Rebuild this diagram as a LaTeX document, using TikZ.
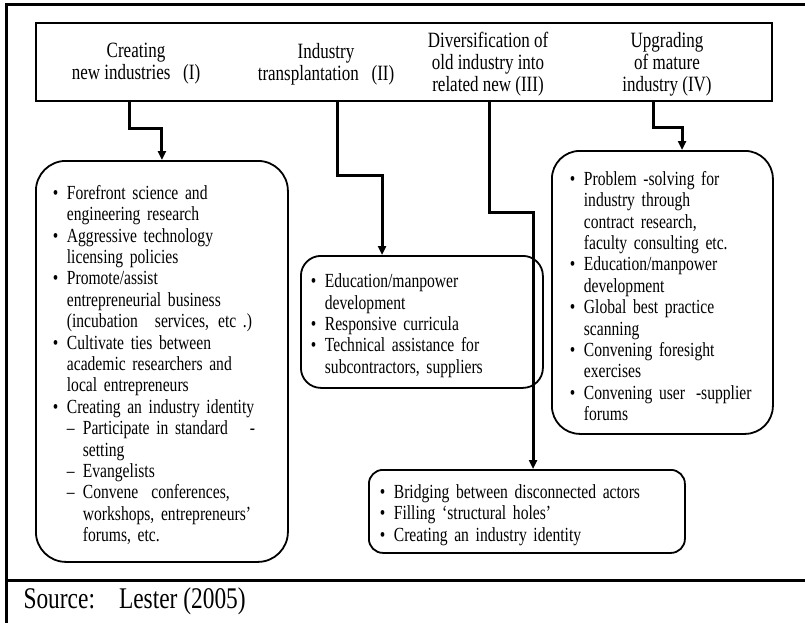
\documentclass[tikz,border=0pt]{standalone}
\usepackage{fontspec}
\setmainfont{Liberation Serif}[FakeStretch=0.78]
\usetikzlibrary{arrows.meta}
\usetikzlibrary{positioning}

\newcommand{\bitem}[1]{\par\noindent\hangindent=14pt\hangafter=1\makebox[14pt][l]{\textbullet}#1\par}
\newcommand{\ditem}[1]{\par\noindent\hangindent=30pt\hangafter=1\hspace*{14pt}\makebox[16pt][l]{--}#1\par}

\begin{document}
\begin{tikzpicture}[
    x=1pt, y=-1pt,
    headBox/.style={draw, line width=1.8pt, anchor=north west, inner sep=0pt},
    headText/.style={align=center, font=\fontsize{21.8}{22}\selectfont},
    itemBox/.style={
        draw, line width=1.8pt, anchor=north west,
        align=left, inner ysep=0pt,
        font=\fontsize{20}{21.4}\selectfont
    },
    link/.style={line width=3pt, -{Triangle[length=9pt, width=8pt]}},
    frame/.style={line width=3pt}
]
\useasboundingbox (0,0) rectangle (805,623);

% outer frame
\draw[frame] (805,5) -- (6.5,5) -- (6.5,623);
\draw[frame] (6.5,580) -- (805,580);

% strategies
\node[headBox, minimum width=736pt, minimum height=78pt] (head) at (35,22) {};
\node[headText] (creating) at (136,64) {Creating\\new industries~~~(I)};
\node[headText] (transplant) at (326,64) {Industry\\transplantation~~~(II)};
\node[headText] (diversify) at (488,64) {Diversification of\\old industry into\\related new (III)};
\node[headText] (upgrade) at (667,64) {Upgrading\\of mature\\industry (IV)};

% roles
\node[itemBox, rounded corners=30pt, inner xsep=17pt, text width=218pt, minimum height=401pt] (newInd) at (35,160) {%
\bitem{Forefront science and\newline engineering research}
\bitem{Aggressive technology\newline licensing policies}
\bitem{Promote/assist\newline entrepreneurial business\newline (incubation\hspace{17pt}services,\hspace{9pt}etc .)}
\bitem{Cultivate ties between\newline academic researchers and\newline local entrepreneurs}
\bitem{Creating an industry identity}
\ditem{Participate in standard\hspace{22pt}-\newline setting}
\ditem{Evangelists}
\ditem{Convene\hspace{13pt}conferences,\newline workshops, entrepreneurs’\newline forums, etc.}};

\node[itemBox, rounded corners=20pt, inner xsep=10pt, text width=222pt, minimum height=132pt] (transBox) at (300,255) {%
\bitem{Education/manpower\newline development}
\bitem{Responsive curricula}
\bitem{Technical assistance for\newline subcontractors, suppliers}};

\node[itemBox, rounded corners=14pt, inner xsep=11pt, text width=294pt, minimum height=83pt] (divBox) at (368,469) {%
\bitem{Bridging between disconnected actors}
\bitem{Filling ‘structural holes’}
\bitem{Creating an industry identity}};

\node[itemBox, rounded corners=28pt, inner xsep=18pt, text width=185pt, minimum height=283pt] (upBox) at (551,150) {%
\bitem{Problem -solving for\newline industry through\newline contract research,\newline faculty consulting etc.}
\bitem{Education/manpower\newline development}
\bitem{Global best practice\newline scanning}
\bitem{Convening foresight\newline exercises}
\bitem{Convening user\hspace{11pt}-supplier\newline forums}};

% connectors
\draw[link] (129,0 |- head.south) -- (129,128) -| (newInd.north);
\draw[link] (337,0 |- head.south) -- (337,175) -| (382,0 |- transBox.north);
\draw[link] (489,0 |- head.south) -- (489,212) -| (533,0 |- divBox.north);
\draw[link] (653,0 |- head.south) -- (653,127) -| (682,0 |- upBox.north);

% source
\node[anchor=west, font=\fontsize{30}{32}\selectfont] (source) at (20,601) {Source:\hspace{24pt}Lester (2005)};
\end{tikzpicture}
\end{document}
